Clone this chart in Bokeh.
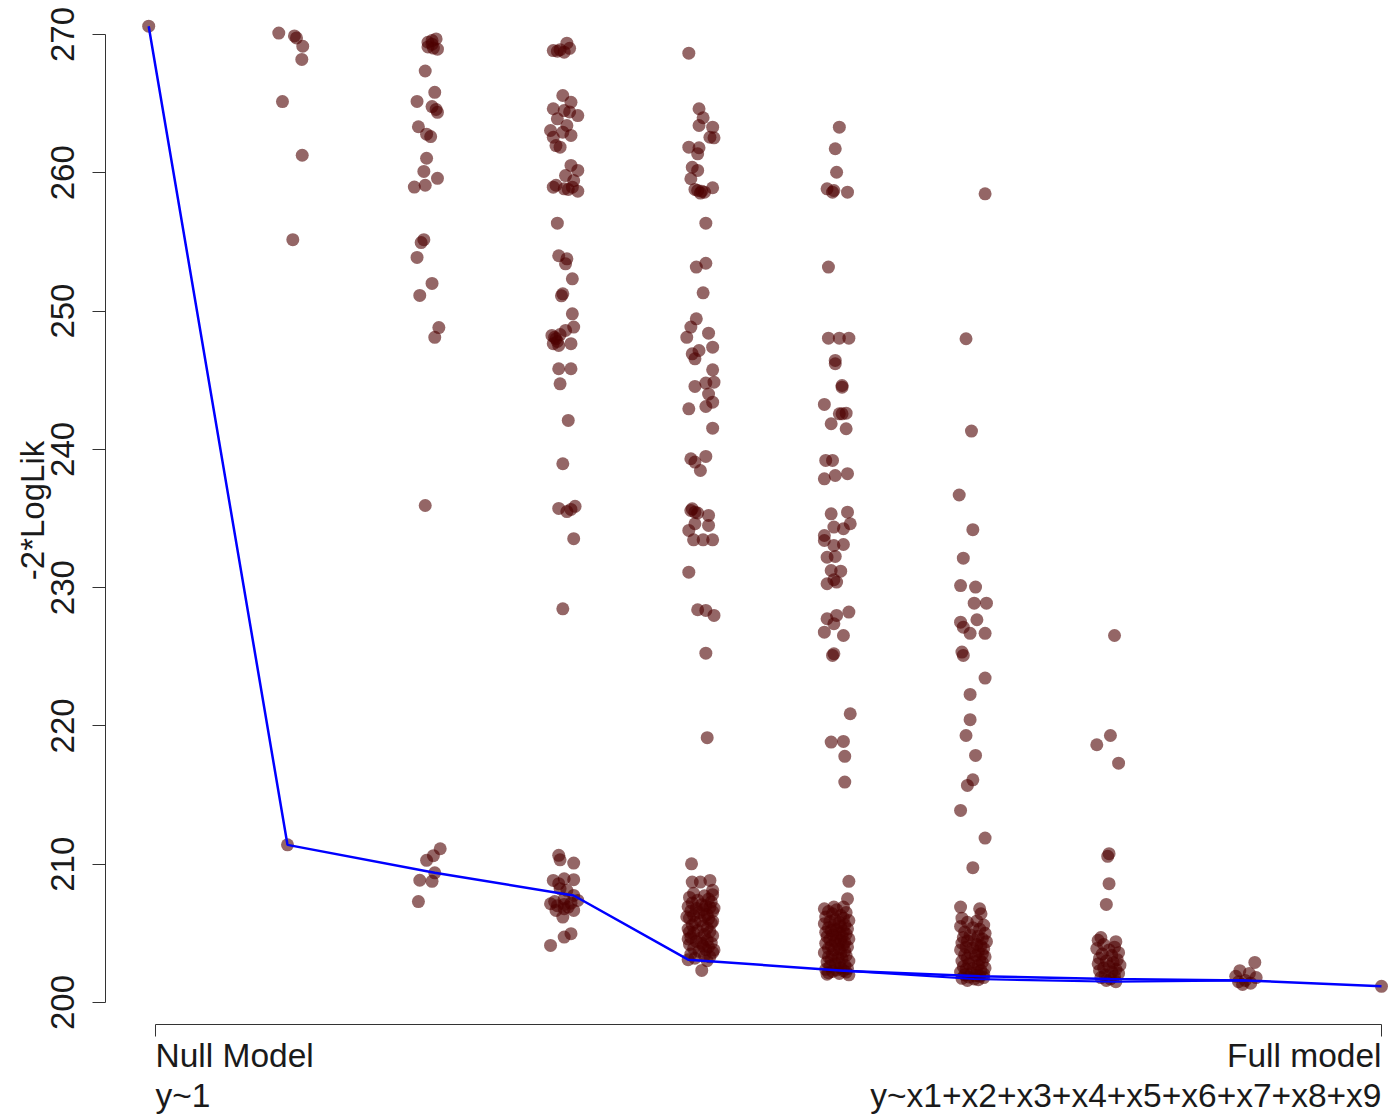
import math
from bokeh.plotting import figure
from bokeh.models import Range1d, FixedTicker, Label, ColumnDataSource
from bokeh.embed import file_html
from bokeh.resources import INLINE

# ---------------- data: -2*LogLik of every sub-model, by number of predictors ----------------
lvl0_y = [270.6]
lvl0_j = [-0.05]

lvl1_y = [270.1, 269.9, 269.75, 269.15, 268.2, 265.15, 261.27, 255.16, 211.4]
lvl1_j = [-0.095, 0.02, 0.035, 0.081, 0.074, -0.068, 0.077, 0.008, -0.031]

lvl2_y = [269.44, 269.56, 269.68, 269.02, 268.94, 269.3, 269.1, 267.36, 265.82, 265.16,
          264.79, 264.58, 264.37, 263.33, 262.79, 262.62, 261.05, 260.1, 259.6, 258.97,
          259.1, 255.16, 254.95, 253.88, 252.0, 251.13, 248.81, 248.1, 235.94, 211.12,
          210.62, 210.28, 209.38, 208.84, 208.76, 207.3]
lvl2_j = [0.0, 0.03, 0.06, 0.04, 0.07, 0.03, 0.0, -0.02, 0.05, -0.08,
          0.03, 0.06, 0.07, -0.07, -0.01, 0.02, -0.01, -0.03, 0.07, -0.10,
          -0.02, -0.03, -0.05, -0.08, 0.03, -0.06, 0.08, 0.05, -0.02, 0.09,
          0.04, -0.01, 0.05, -0.06, 0.03, -0.07]

lvl3_y = [268.84, 268.79, 268.72, 269.37, 268.9, 269.0,
          265.59, 265.1, 264.63, 264.5, 264.4, 264.14, 263.9, 263.42,
          263.06, 262.94, 262.7, 262.57, 261.97, 261.85,
          260.53, 260.17, 259.8, 259.44, 259.1, 258.96, 258.84, 258.8, 258.67, 258.96,
          256.36, 254.0, 253.78, 253.42, 252.33, 251.25, 251.1,
          249.8, 248.84, 248.6, 248.3, 248.24, 248.1, 248.0, 247.8, 247.64, 247.51, 247.64,
          245.83, 245.83, 244.74, 242.09, 238.96,
          235.73, 235.66, 235.88, 235.5, 233.54, 228.47,
          210.64, 210.32, 210.08, 208.83, 208.95, 208.88, 208.59, 208.23, 208.11, 207.74,
          207.5, 207.3, 207.14, 207.0, 207.09, 207.18, 207.38, 206.9, 206.66, 206.78, 206.66, 206.18,
          204.98, 204.73, 204.13]
lvl3_j = [-0.08, -0.05, 0.0, 0.02, -0.03, 0.04,
          -0.01, 0.05, -0.08, 0.0, 0.04, 0.1, -0.05, 0.02,
          -0.1, -0.01, 0.05, -0.08, -0.06, -0.03,
          0.05, 0.1, 0.01, 0.07, -0.06, -0.08, 0.0, 0.03, 0.1, 0.06,
          -0.05, -0.04, 0.02, 0.01, 0.06, -0.01, -0.02,
          0.06, 0.07, 0.01, -0.03, -0.09, -0.07, -0.06, -0.05, -0.08, -0.04, 0.05,
          -0.04, 0.05, -0.03, 0.03, -0.01,
          -0.04, 0.05, 0.08, 0.02, 0.07, -0.01,
          -0.04, -0.03, 0.07, -0.08, 0.0, 0.07, -0.04, -0.03, 0.02, 0.07,
          0.0, -0.07, -0.1, -0.05, 0.0, 0.05, 0.1, 0.03, -0.06, 0.0, 0.07, -0.01,
          0.05, 0.0, -0.1]

lvl4_y = [268.65, 264.63, 263.98, 263.3, 263.42, 262.57, 262.53, 261.85, 261.81, 261.37, 260.4, 260.17, 259.57,
          258.72, 258.53, 258.67, 258.92, 258.8, 258.6, 256.36, 253.18, 253.46, 251.32,
          249.44, 248.84, 248.1, 248.4, 246.91, 246.55, 247.15, 247.39, 245.75,
          244.55, 244.79, 244.86, 244.0, 243.41, 243.1, 242.93, 241.53,
          239.32, 239.49, 238.47, 239.08,
          235.58, 235.46, 235.22, 234.14, 234.5, 234.62, 235.7, 235.4,
          233.46, 233.46, 233.46, 231.12, 228.4, 228.35, 227.99, 225.26, 219.15,
          210.03, 208.71, 208.71, 208.83, 208.11,
          207.9, 207.72, 207.6, 207.48, 207.4, 207.27, 207.2, 207.06, 207.0, 206.93,
          206.88, 206.8, 206.71, 206.62, 206.58, 206.5, 206.36, 206.3, 206.22, 206.1,
          206.04, 205.92, 205.8, 205.74, 205.6, 205.52, 205.38, 205.31, 205.2, 205.12,
          205.0, 204.92, 204.83, 204.7, 204.64, 204.5, 204.42, 204.3, 204.2, 204.08,
          204.02, 203.9, 203.82, 203.7, 203.62, 203.5, 203.38, 203.3, 203.2, 203.02,
          206.82, 205.88, 204.6, 207.8, 206.2, 205.1, 203.8, 204.28, 203.1, 202.32]
lvl4_j = [-0.085, -0.01, 0.02, 0.09, -0.01, 0.07, 0.1, -0.085, -0.01, -0.02, -0.06, -0.02, -0.07,
          -0.02, 0.0, 0.01, 0.09, -0.04, 0.03, 0.04, -0.03, 0.04, 0.02,
          -0.03, -0.07, -0.1, 0.06, -0.06, -0.04, -0.01, 0.09, 0.09,
          -0.04, 0.04, 0.1, 0.06, 0.09, 0.04, -0.085, 0.09,
          -0.07, 0.04, 0.0, -0.04,
          -0.07, -0.04, 0.06, -0.085, 0.06, -0.04, -0.06, -0.02,
          -0.05, 0.02, 0.09, -0.085, -0.02, 0.04, 0.1, 0.04, 0.05,
          -0.065, -0.06, 0.0, 0.07, 0.09,
          -0.05, 0.03, -0.08, 0.06, -0.02, 0.08, -0.06, 0.01, 0.04, -0.09,
          0.07, -0.03, 0.02, -0.07, 0.09, -0.01, 0.05, -0.05, 0.03, -0.08,
          0.06, 0.0, -0.04, 0.08, -0.06, 0.02, 0.05, -0.09, -0.02, 0.07,
          -0.05, 0.03, 0.09, -0.07, 0.0, 0.05, -0.03, 0.08, -0.08, 0.02,
          0.06, -0.05, 0.04, -0.01, 0.09, -0.07, 0.03, 0.07, -0.04, 0.05,
          0.1, 0.09, -0.09, 0.09, -0.1, -0.08, 0.1, 0.01, -0.09, 0.01]

lvl5_y = [263.3, 261.74, 260.04, 258.84, 258.6, 258.6, 258.72, 253.18,
          248.04, 248.04, 248.04, 246.43, 246.19, 244.62, 244.5, 243.25,
          242.57, 242.62, 242.57, 241.85, 241.49, 239.2, 239.2,
          237.87, 238.11, 238.24, 235.34, 235.46, 234.38, 234.62, 234.26, 233.77,
          233.41, 233.05, 233.12, 232.2, 232.26, 231.24, 231.19, 230.28, 230.4, 230.57,
          227.75, 227.99, 228.23, 227.39, 226.78, 226.54, 225.1, 225.22,
          220.88, 218.83, 218.88, 217.8, 215.94,
          208.76, 207.5, 206.78, 206.9, 206.9,
          206.7, 206.58, 206.5, 206.42, 206.3, 206.18, 206.1, 206.0, 205.93, 205.85,
          205.78, 205.7, 205.62, 205.55, 205.48, 205.4, 205.33, 205.28, 205.2, 205.15,
          205.08, 205.0, 204.95, 204.88, 204.8, 204.76, 204.7, 204.6, 204.55, 204.48,
          204.4, 204.35, 204.28, 204.2, 204.15, 204.1, 204.02, 203.92, 203.85, 203.8,
          203.72, 203.6, 203.55, 203.48, 203.4, 203.3, 203.25, 203.18, 203.1, 203.0,
          202.92, 202.85, 202.8, 202.7, 202.62, 202.5, 202.45, 202.4, 202.35, 202.3,
          202.25, 202.2, 202.15, 202.1, 202.05, 202.0]
lvl5_j = [0.02, -0.01, 0.0, -0.07, -0.03, 0.08, -0.02, -0.06,
          -0.06, 0.02, 0.09, -0.01, -0.01, 0.04, 0.04, -0.09,
          0.02, 0.07, 0.04, -0.04, 0.07, -0.08, -0.03,
          -0.09, -0.01, 0.08, -0.04, 0.08, -0.02, 0.1, 0.05, -0.09,
          -0.09, -0.02, 0.05, -0.07, -0.01, -0.04, 0.03, -0.07, 0.0, -0.02,
          -0.07, 0.0, 0.09, -0.02, -0.09, 0.05, -0.03, -0.02,
          0.1, -0.04, 0.05, 0.06, 0.06,
          0.09, 0.08, -0.09, -0.02, 0.05,
          0.0, -0.06, 0.07, -0.03, 0.03, -0.08, 0.05, -0.01, 0.09, -0.05,
          0.02, -0.09, 0.06, -0.02, 0.03, -0.06, 0.08, 0.0, -0.04, 0.05,
          -0.08, 0.02, 0.07, -0.03, 0.04, -0.07, 0.0, 0.09, -0.05, 0.03,
          -0.01, 0.06, -0.08, 0.01, 0.05, -0.04, 0.08, -0.06, 0.02, -0.02,
          0.06, -0.09, 0.03, -0.03, 0.07, -0.06, 0.01, 0.04, -0.04, 0.09,
          -0.07, 0.02, -0.01, 0.06, -0.05, 0.03, 0.08, -0.08, 0.0, 0.05,
          -0.03, 0.07, -0.06, 0.02, -0.07, 0.09]

lvl6_y = [258.48, 248.0, 241.32, 236.7, 234.19, 232.13, 230.15, 230.04, 228.88, 228.88,
          227.68, 227.5, 227.14, 226.7, 226.7, 225.34, 225.1, 223.46, 222.28, 220.45,
          219.31, 217.87, 216.1, 215.7, 213.89, 211.89, 209.75, 206.9, 206.78, 206.42,
          206.1, 205.9, 205.8, 205.6, 205.5, 205.4, 205.3, 205.1, 205.0,
          204.9, 204.8, 204.7, 204.6, 204.5, 204.45, 204.4, 204.3, 204.2, 204.1, 204.0,
          203.95, 203.9, 203.8, 203.7, 203.6, 203.5, 203.45, 203.4, 203.3, 203.2, 203.1, 203.0,
          202.95, 202.9, 202.8, 202.7, 202.6, 202.5, 202.45, 202.4, 202.3, 202.2, 202.15, 202.1, 202.05, 202.0,
          201.95, 201.9, 201.85, 201.8, 201.75, 201.7, 201.65, 201.6]
lvl6_j = [0.09, -0.05, -0.01, -0.1, 0.0, -0.07, -0.09, 0.02, 0.01, 0.1,
          0.03, -0.09, -0.07, -0.02, 0.09, -0.08, -0.07, 0.09, -0.02, -0.02,
          -0.05, 0.02, 0.0, -0.04, -0.09, 0.09, 0.0, -0.09, 0.05, 0.06,
          -0.08, 0.03, -0.04, 0.08, -0.09, 0.0, 0.05, -0.06, 0.09,
          -0.02, 0.04, -0.07, 0.07, 0.01, -0.04, 0.1, -0.08, 0.03, 0.06, -0.05,
          0.0, 0.08, -0.09, 0.04, -0.02, 0.07, -0.06, 0.02, 0.09, -0.04, 0.05, -0.08,
          0.01, 0.07, -0.03, 0.04, -0.07, 0.09, 0.0, -0.05, 0.06, -0.09, 0.03, -0.01, 0.08, -0.06,
          0.02, 0.05, -0.03, 0.08, -0.08, 0.01, 0.04, -0.04]

lvl7_y = [226.54, 219.31, 218.64, 217.31, 210.76, 210.57, 208.59, 207.09,
          204.7, 204.5, 204.4, 204.2, 204.0, 203.9, 203.8, 203.6, 203.5, 203.4,
          203.2, 203.1, 203.0, 202.9, 202.8, 202.7, 202.6, 202.5, 202.4, 202.3,
          202.2, 202.1, 202.0, 201.9, 201.8, 201.7, 201.6, 201.5]
lvl7_j = [0.04, 0.01, -0.09, 0.07, 0.0, -0.01, 0.0, -0.02,
          -0.06, -0.08, 0.05, -0.04, 0.04, -0.09, 0.0, 0.07, -0.05, 0.02,
          -0.07, 0.06, -0.02, 0.03, -0.08, 0.08, 0.0, -0.04, 0.05, -0.07,
          0.02, 0.07, -0.03, 0.04, -0.06, 0.01, -0.02, 0.05]

lvl8_y = [202.9, 202.3, 202.1, 201.9, 201.8, 201.6, 201.5, 201.4, 201.3]
lvl8_j = [0.07, -0.04, 0.03, -0.07, 0.08, 0.0, -0.05, 0.04, -0.02]

lvl9_y = [201.17]
lvl9_j = [0.0]

# selected model paths (blue lines): forward path and the alternative branch at 6-7 predictors
path_x = [-0.05, 0.969, 2.05, 3.07, 3.91, 5.05, 6.05, 7.01, 8.0, 9.0]
path_y = [270.6, 211.4, 209.38, 207.74, 203.1, 202.3, 201.9, 201.7, 201.6, 201.17]
path2_x = [5.05, 6.01, 7.05, 8.0]
path2_y = [202.3, 201.7, 201.5, 201.6]

y_ticks = [200, 210, 220, 230, 240, 250, 260, 270]
x_ticks = [0, 9]
x_label_top = ["Null Model", "Full model"]
x_label_bottom = ["y~1", "y~x1+x2+x3+x4+x5+x6+x7+x8+x9"]
y_title = "-2*LogLik"

# ---------------- build ----------------
all_y = [lvl0_y, lvl1_y, lvl2_y, lvl3_y, lvl4_y, lvl5_y, lvl6_y, lvl7_y, lvl8_y, lvl9_y]
all_j = [lvl0_j, lvl1_j, lvl2_j, lvl3_j, lvl4_j, lvl5_j, lvl6_j, lvl7_j, lvl8_j, lvl9_j]
xs, ys = [], []
for k, (yy, jj) in enumerate(zip(all_y, all_j)):
    for v, j in zip(yy, jj):
        xs.append(k + j)
        ys.append(v)

FONT = "Liberation Sans"
W, H = 1389, 1114
X_AXIS_AT = 198.409      # y value where the x axis line sits
Y_AXIS_AT = -0.36705     # x value where the y axis line sits
Y_LBL1, Y_LBL2 = 196.167, 193.275
YT_X, YT_Y = -0.906, 235.58   # centre of the y title

p = figure(width=W, height=H, output_backend="svg", toolbar_location=None,
           x_range=Range1d(-1.13785, 9.05873), y_range=Range1d(191.901, 272.459),
           min_border_left=0, min_border_right=0, min_border_top=0, min_border_bottom=0)
p.outline_line_color = None
p.xgrid.visible = False
p.ygrid.visible = False
p.background_fill_color = "white"
p.border_fill_color = "white"

src = ColumnDataSource(dict(x=xs, y=ys))
p.scatter("x", "y", source=src, size=13, fill_color="#4d0000", fill_alpha=0.6, line_color=None)
p.line(path2_x, path2_y, line_color="#0000ff", line_width=2.2)
p.line(path_x, path_y, line_color="#0000ff", line_width=2.5)

ya = p.yaxis[0]
ya.ticker = FixedTicker(ticks=y_ticks)
ya.bounds = (200, 270)
ya.fixed_location = Y_AXIS_AT
ya.minor_tick_line_color = None
ya.major_tick_out = 13
ya.major_tick_in = 0
ya.major_label_orientation = "vertical"
ya.major_label_text_font = FONT
ya.major_label_text_font_size = "33px"
ya.major_label_text_color = "#1a1a1a"
ya.major_label_standoff = 18
ya.axis_line_color = "#333333"
ya.major_tick_line_color = "#333333"

xa = p.xaxis[0]
xa.ticker = FixedTicker(ticks=x_ticks)
xa.bounds = (0, 9)
xa.fixed_location = X_AXIS_AT
xa.minor_tick_line_color = None
xa.major_tick_out = 12
xa.major_tick_in = 0
xa.major_label_text_color = None
xa.axis_line_color = "#333333"
xa.major_tick_line_color = "#333333"

p.add_layout(Label(x=YT_X, y=YT_Y, text=y_title, angle=math.pi / 2, text_align="center",
                   text_baseline="middle", text_font=FONT, text_font_size="33px",
                   text_color="#1a1a1a"))

aligns = ["left", "right"]
for xv, t1, t2, al in zip(x_ticks, x_label_top, x_label_bottom, aligns):
    p.add_layout(Label(x=xv, y=Y_LBL1, text=t1, text_align=al, text_baseline="middle",
                       text_font=FONT, text_font_size="33.5px", text_color="#1a1a1a"))
    p.add_layout(Label(x=xv, y=Y_LBL2, text=t2, text_align=al, text_baseline="middle",
                       text_font=FONT, text_font_size="33.5px", text_color="#1a1a1a"))

open("out.html", "w").write(file_html(p, INLINE))
